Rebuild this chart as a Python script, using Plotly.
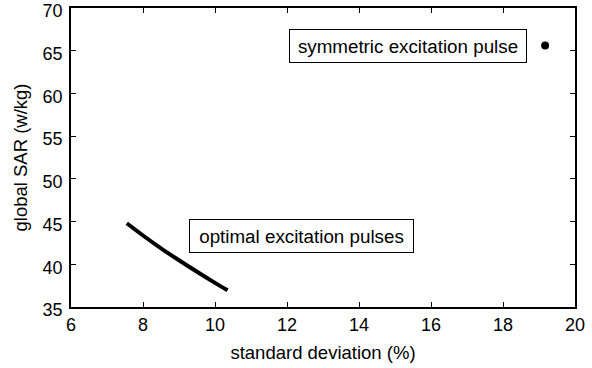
import plotly.graph_objects as go

# Data
opt_std = [7.55, 8.0, 8.5, 9.0, 9.5, 10.0, 10.35]
opt_sar = [44.8, 43.37, 41.87, 40.47, 39.12, 37.82, 36.95]
sym_std = [19.17]
sym_sar = [65.6]

x_ticks = [6, 8, 10, 12, 14, 16, 18, 20]
y_ticks = [35, 40, 45, 50, 55, 60, 65, 70]

FONT = "Liberation Sans, Arial, sans-serif"

fig = go.Figure()
fig.add_trace(go.Scatter(x=opt_std, y=opt_sar, mode="lines",
                         line=dict(color="black", width=4, shape="spline"),
                         showlegend=False, cliponaxis=False))
fig.add_trace(go.Scatter(x=sym_std, y=sym_sar, mode="markers",
                         marker=dict(color="black", size=8),
                         showlegend=False))

fig.add_annotation(x=15.36, y=65.5, xref="x", yref="y",
                   text="symmetric excitation pulse", showarrow=False,
                   font=dict(family=FONT, size=18.8, color="black"),
                   bordercolor="black", borderwidth=1, borderpad=0,
                   width=236, height=32, bgcolor="white")
fig.add_annotation(x=12.4, y=43.27, xref="x", yref="y",
                   text="optimal excitation pulses", showarrow=False,
                   font=dict(family=FONT, size=18.8, color="black"),
                   bordercolor="black", borderwidth=1, borderpad=0,
                   width=223, height=32, bgcolor="white")

axis_common = dict(showgrid=False, zeroline=False, showline=True,
                   linecolor="black", linewidth=1.5, mirror="ticks",
                   ticks="inside", ticklen=5, tickcolor="black",
                   automargin=False, ticklabeloverflow="allow",
                   tickfont=dict(family=FONT, size=18, color="black"))

fig.update_xaxes(range=[6, 20], tickvals=x_ticks,
                 title=dict(text="standard deviation (%)",
                            font=dict(family=FONT, size=18.5, color="black"),
                            standoff=12),
                 ticklabelstandoff=1,
                 **axis_common)
fig.update_yaxes(range=[35, 70], tickvals=y_ticks,
                 title=dict(text="global SAR (w/kg)",
                            font=dict(family=FONT, size=18.5, color="black"),
                            standoff=10),
                 ticklabelstandoff=3, ticklabelshift=3,
                 **axis_common)

fig.update_layout(width=592, height=368,
                  margin=dict(l=71, r=17, t=8, b=61),
                  plot_bgcolor="white", paper_bgcolor="white",
                  font=dict(family=FONT, color="black"))

fig.write_html("out.html", config={"displayModeBar": False},
               post_script="document.body.style.margin='0';document.body.style.padding='0';document.body.style.overflow='hidden';")
